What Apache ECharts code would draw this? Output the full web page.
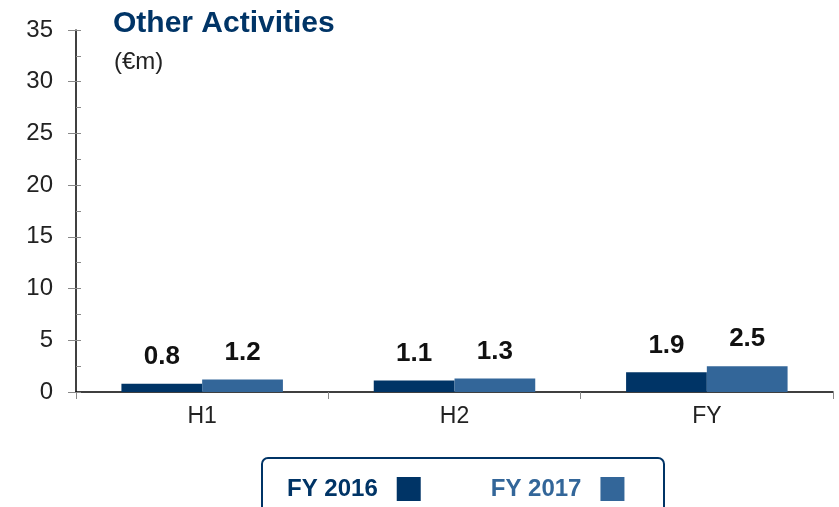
<!DOCTYPE html>
<html>
<head>
<meta charset="utf-8">
<script src="https://cdn.jsdelivr.net/npm/echarts@6/dist/echarts.min.js"></script>
<style>
  html, body { margin: 0; padding: 0; background: #fff; }
  #chart { width: 839px; height: 507px; }
</style>
</head>
<body>
<div id="chart"></div>
<script>
// data
var categories = ['H1', 'H2', 'FY'];
var fy2016 = [0.8, 1.1, 1.9];
var fy2017 = [1.2, 1.3, 2.5];
var seriesNames = ['FY 2016', 'FY 2017'];
var yTicks = [0, 5, 10, 15, 20, 25, 30, 35];

var dark = '#003466';
var light = '#336699';
var font = '"Liberation Sans", Arial, sans-serif';

var chart = echarts.init(document.getElementById('chart'));

var valueLabel = {
    show: true,
    position: 'top',
    distance: 14,
    color: '#111',
    fontSize: 26,
    fontWeight: 'bold',
    fontFamily: font
};

chart.setOption({
    animation: false,
    grid: { left: 76, right: 6, top: 30, bottom: 115, containLabel: false },
    title: [
        {
            text: 'Other Activities',
            left: 108, top: 4,
            textStyle: { color: dark, fontSize: 30, fontWeight: 'bold', fontFamily: font }
        },
        {
            text: '(€m)',
            left: 109, top: 45,
            textStyle: { color: '#222', fontSize: 24, fontWeight: 'normal', fontFamily: font }
        }
    ],
    legend: {
        data: [
            { name: seriesNames[0], textStyle: { color: dark } },
            { name: seriesNames[1], textStyle: { color: light } }
        ],
        align: 'right',
        left: 282, top: 472,
        itemWidth: 24, itemHeight: 24, itemGap: 70,
        icon: 'rect',
        textStyle: { fontSize: 24, fontWeight: 'bold', fontFamily: font, padding: [0, 14, 0, 0] }
    },
    graphic: [{
        type: 'rect',
        shape: { x: 262, y: 458, width: 402, height: 80, r: 6 },
        style: { fill: 'none', stroke: dark, lineWidth: 2 }
    }],
    xAxis: {
        type: 'category',
        data: categories,
        axisLine: { lineStyle: { color: '#000', width: 1.5 } },
        axisTick: { show: true, length: 7, lineStyle: { color: '#888' } },
        axisLabel: { color: '#222', fontSize: 23, margin: 13, fontFamily: font }
    },
    yAxis: [
        {
            type: 'value',
            min: yTicks[0], max: yTicks[yTicks.length - 1], interval: 5,
            axisLine: { show: true, lineStyle: { color: '#000', width: 1.5 } },
            axisTick: { show: true, length: 8, lineStyle: { color: '#888' } },
            axisLabel: { color: '#222', fontSize: 24, margin: 23, fontFamily: font },
            splitLine: { show: false }
        },
        {
            type: 'value',
            position: 'left',
            min: yTicks[0], max: yTicks[yTicks.length - 1], interval: 2.5,
            axisLine: { show: false },
            axisTick: { show: true, inside: true, length: 5, lineStyle: { color: '#888' } },
            axisLabel: { show: false },
            splitLine: { show: false }
        }
    ],
    series: [
        {
            name: seriesNames[0], type: 'bar', data: fy2016,
            itemStyle: { color: dark },
            barGap: '0%', barCategoryGap: '36%',
            label: valueLabel
        },
        {
            name: seriesNames[1], type: 'bar', data: fy2017,
            itemStyle: { color: light },
            barGap: '0%', barCategoryGap: '36%',
            label: valueLabel
        }
    ]
});
</script>
</body>
</html>
